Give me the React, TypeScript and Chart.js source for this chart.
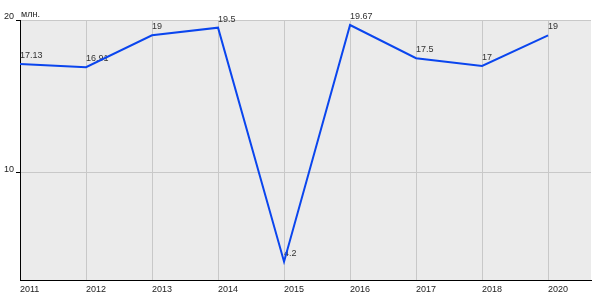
import React, { useEffect, useRef } from "react";
import { Chart, registerables } from "chart.js";

Chart.register(...registerables);

const years = ["2011", "2012", "2013", "2014", "2015", "2016", "2017", "2018", "2020"];
const values = [17.13, 16.91, 19, 19.5, 4.2, 19.67, 17.5, 17, 19];
const valueLabels = ["17.13", "16.91", "19", "19.5", "4.2", "19.67", "17.5", "17", "19"];
const yTicks = [10, 20];
const unitLabel = "млн.";

const FONT = "Liberation Sans, Arial, sans-serif";

const bgPlugin = {
  id: "bgPlugin",
  beforeDraw(chart: any) {
    const { ctx, chartArea } = chart;
    ctx.save();
    ctx.fillStyle = "#ebebeb";
    ctx.fillRect(chartArea.left, chartArea.top, chartArea.right - chartArea.left, chartArea.bottom - chartArea.top);
    ctx.restore();
  },
  afterDraw(chart: any) {
    const { ctx, chartArea } = chart;
    ctx.save();
    ctx.fillStyle = "#222";
    ctx.font = `9px ${FONT}`;
    ctx.textAlign = "left";
    ctx.textBaseline = "alphabetic";
    ctx.fillText(unitLabel, chartArea.left + 1, chartArea.top - 3);
    ctx.restore();
  },
};

const labelPlugin = {
  id: "labelPlugin",
  beforeDatasetsDraw(chart: any) {
    const { ctx } = chart;
    const meta = chart.getDatasetMeta(0);
    ctx.save();
    ctx.fillStyle = "#333";
    ctx.font = `9px ${FONT}`;
    ctx.textAlign = "left";
    ctx.textBaseline = "alphabetic";
    meta.data.forEach((pt: any, i: number) => {
      ctx.fillText(valueLabels[i], pt.x, pt.y - 6);
    });
    ctx.restore();
  },
};

export default function App() {
  const ref = useRef<HTMLCanvasElement>(null);
  useEffect(() => {
    document.body.style.margin = "0";
    const chart = new Chart(ref.current as HTMLCanvasElement, {
      type: "line",
      data: {
        datasets: [
          {
            data: values.map((v, i) => ({ x: i, y: v })),
            borderColor: "#0a45ee",
            borderWidth: 2,
            pointRadius: 0,
            tension: 0,
            fill: false,
          },
        ],
      },
      options: {
        animation: false,
        responsive: false,
        layout: { padding: { top: 20, right: 9, left: 0, bottom: 0 } },
        plugins: { legend: { display: false }, tooltip: { enabled: false } },
        scales: {
          x: {
            type: "linear",
            min: 0,
            max: 8.65,
            afterBuildTicks: (s: any) => {
              s.ticks = years.map((_, i) => ({ value: i }));
            },
            afterFit: (s: any) => {
              s.height = 20;
            },
            ticks: {
              callback: (v: any) => years[v] ?? "",
              align: "start",
              padding: 4,
              maxRotation: 0,
              autoSkip: false,
              color: "#222",
              font: { family: FONT, size: 9 },
            },
            grid: { color: "#c8c8c8", drawTicks: false, lineWidth: 1 },
            border: { color: "#000", width: 1 },
          },
          y: {
            min: 3,
            max: 20,
            afterBuildTicks: (s: any) => {
              s.ticks = yTicks.map((v) => ({ value: v }));
            },
            afterFit: (s: any) => {
              s.width = 20;
            },
            ticks: {
              padding: 2,
              labelOffset: -3,
              color: "#222",
              font: { family: FONT, size: 9 },
            },
            grid: { color: "#c8c8c8", tickColor: "#000", tickLength: 4, lineWidth: 1 },
            border: { color: "#000", width: 1 },
          },
        },
      } as any,
      plugins: [bgPlugin, labelPlugin],
    });
    return () => chart.destroy();
  }, []);
  return (
    <div style={{ position: "fixed", left: 0, top: 0, width: 600, height: 300 }}>
      <canvas ref={ref} width={600} height={300} style={{ width: 600, height: 300 }} />
    </div>
  );
}
